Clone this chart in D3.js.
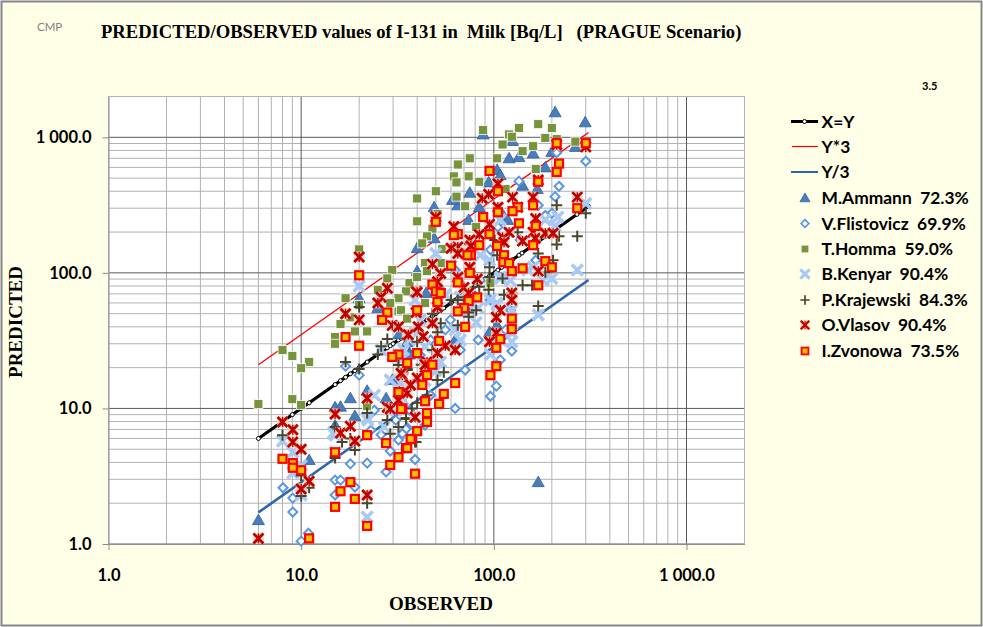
<!DOCTYPE html>
<html><head><meta charset="utf-8">
<script src="https://cdn.jsdelivr.net/npm/d3@7"></script>
<style>
html,body{margin:0;padding:0;background:#fff;overflow:hidden}
svg{display:block}
text{white-space:pre}
</style></head><body>
<svg id="c" width="983" height="627"></svg>
<script>
const titleText = "PREDICTED/OBSERVED values of I-131 in  Milk [Bq/L]   (PRAGUE Scenario)";
const xTitle = "OBSERVED", yTitle = "PREDICTED";
const axisTicks = [1, 10, 100, 1000];

const lineObserved = [6,8,9,10,11,15,16,17,18,19,20,22,25,26,28,29,30,32,33,35,37,40,42,45,48,50,53,55,60,63,65,70,75,80,85,90,95,105,110,125,135,140,160,170,185,200,212,270,310];
const lineSamples = [6, 310];
const lineXY = [6, 310];
const lineY3 = [21, 1085];
const lineYd3 = [1.71, 88.6];

const ammann = [[6,1.5],[11,4.16],[15,10.2],[16,10.3],[18,11.9],[19,8.8],[22,13.5],[15,7.5],[27.6,11.9],[29.7,16.2],[35.5,30.8],[32.2,35.3],[36.5,25.6],[170,2.86],[208,1530],[298,1290],[160,760],[185,600],[120,700],[135,715],[104,575],[108,525],[94,465],[141,440],[168,415],[200,780],[75,390],[84,305],[65,315],[49,305],[49,180],[40,152],[40,103],[74,246],[112,265],[118,246],[61,345],[44.5,71],[25,55],[20,65],[36.5,25],[63,32],[95,36.5],[104,41],[88,1050],[125,940],[265,850]];
const flistovicz = [[10,1.05],[10.9,1.2],[9.05,1.72],[9.05,2.18],[8.05,2.6],[15,2.96],[16,2.96],[19,2.63],[15,2.3],[18,3.9],[22,3.95],[27.6,3.4],[29,4.85],[32,5.85],[35.5,7.2],[39,4.2],[17,20.5],[20,17.6],[63,10],[96,12.3],[103,14.6],[108,22.8],[124,26.5],[35,7.05],[33.5,6.5],[44,7.55],[300,665],[212,770],[218,435],[208,365],[200,275],[170,315],[135,475],[105,218],[137,175],[185,265],[47,32],[56,38],[75,63],[85,88],[122,53],[53,75],[33,11.5],[41,16.2],[47,12.5],[24,9.7],[26,6.4],[23,6.9],[71,19.2],[83,32],[59.5,45],[48,19],[41.5,24.7],[67,27],[96,63],[115,38],[31,8.2],[36.5,9.7],[63,105],[75,135],[165,124],[96,148]];
const homma = [[20,149],[40,354],[40,240],[29.7,105],[28,91],[25,75],[17,65],[36.5,84],[35,73],[32,65],[32,52],[20,58],[29,60],[88,1130],[135,1170],[170,1250],[200,1170],[120,1050],[124,1010],[185,990],[265,930],[111,885],[160,860],[141,790],[212,970],[104,700],[75,700],[65,630],[62,515],[74,515],[64,465],[84,470],[50,400],[64,365],[71,310],[115,415],[48,212],[45,186],[42.5,165],[81,218],[51,272],[54,150],[165,585],[53,118],[44,118],[45,103],[40,93],[44,60],[33,53],[96,84],[8,27],[9,24.4],[11,22],[10,19.8],[9,11.7],[10,10.6],[6,10.8],[15,33.6],[15,30],[16,42],[19,37],[22,37],[18,47],[22,10.4],[35.5,46]];
const kenyar = [[20,80],[8,5.75],[9.05,4.75],[9.05,3.34],[10,2.3],[22,1.58],[15,6.35],[15,4.75],[22,8.5],[27,7.3],[33,15.4],[271,105],[300,325],[215,258],[200,91],[160,110],[180,88],[50,139],[95,124],[122,88],[104,60],[108,93],[67,66],[83,55],[170,49],[124,53],[81,43],[124,31],[96,25],[53,22],[104,58],[124,36],[44,28.5],[39,36],[48,43],[22.2,8.2],[14.7,6.6],[26,27],[108,246],[108,91],[65,93],[150,105],[75,53],[63,38],[56,69],[41.5,45],[36.5,32],[44,16],[34,11.5],[31,9.7],[50,19],[67,32],[85,135],[185,246],[208,223],[108,32],[33,22.8],[39,63],[29,16.2],[24,12.5],[34,27],[10,3.8],[96,63],[60,113]];
const krajewski = [[300,275],[212,315],[271,186],[218,186],[212,162],[170,139],[133,199],[101,175],[104,135],[203,124],[185,101],[95,110],[95,93],[111,91],[141,81],[158,81],[124,71],[113,69],[84,79],[76,72],[65,63],[60,63],[81,53],[74,51],[70,66],[48,50],[170,57],[55,18.5],[51,16.2],[40,11],[35,8.5],[39,5.65],[45,12.5],[37.5,10],[48,27],[51,36.5],[65,41],[53,42.5],[74,47.5],[35.5,19.2],[40,31],[42,21],[8,6.35],[10,3.2],[11,2.6],[10,2.26],[22,2],[15,7.3],[16.3,5.65],[18,6],[19,4.93],[22,9.25],[28,8.2],[29,6.5],[32,7.3],[35,8.35],[15,4.3],[17,22],[20,19.5],[25,25],[26,28.8],[28,32.5],[32,20.9],[35.5,19.5],[39.5,5.65],[20,56],[94,75]];
const vlasov = [[20,131],[28,77],[26,66],[25,60],[17,50],[20,45],[39.5,73],[39.5,51],[50,258],[62,220],[40,72],[105,455],[87,355],[94,380],[125,362],[160,362],[271,362],[300,850],[212,880],[170,485],[105,305],[133,305],[165,252],[95,228],[84,192],[75,175],[76,158],[65,155],[60,152],[65,139],[111,183],[120,199],[113,168],[141,172],[160,199],[164,180],[185,196],[203,196],[170,103],[48,116],[53,99],[75,110],[65,93],[82,90],[51,86],[70,78],[124,71],[124,63],[108,53],[103,47],[51,56],[74,71],[103,36],[95,31],[48,42.5],[43,34],[35.5,35],[56,29],[63,27],[51,25.6],[45,22],[44,20],[40,16.8],[36.5,14.9],[34,13.2],[39,8.6],[33.5,17.6],[6,1.1],[8,7.95],[9.05,6.95],[9.05,5.65],[10,5],[11,2.9],[10,2.55],[15,9.1],[16,6.6],[18,7.4],[19,5.75],[22,11.9],[22,2.3],[28,10.2],[29,9.9],[32,11.5],[35.5,13],[37,14.9],[33,18.2],[29.7,41],[32,40],[36,35],[40.5,40],[44,21]];
const zvonowa = [[20,96],[28,51],[26.3,45],[40,53],[212,905],[300,905],[218,640],[212,555],[170,470],[95,565],[105,400],[160,315],[271,300],[133,305],[125,285],[105,280],[88,258],[50,238],[135,232],[165,222],[65,193],[62,190],[95,193],[84,160],[160,160],[104,158],[76,135],[73,135],[113,135],[185,122],[200,110],[112,120],[120,118],[124,103],[141,108],[60,113],[75,100],[170,81],[65,85],[48,82],[50,73],[53,71],[82,66],[74,62],[51,61],[70,55],[65,52],[124,46],[71,40],[124,38.5],[108,32.5],[52,31.5],[103,28],[40,25.6],[48,21],[35.5,21.6],[103,20.5],[96,17.6],[45,17.6],[63,15.4],[42.5,14.9],[55,12.8],[44,11.3],[52,10.8],[33.5,10],[45,9.25],[45,7.95],[40,6.8],[37.5,5.95],[35,5.1],[39,3.3],[8,4.25],[9.05,3.95],[9.05,3.65],[10,3.5],[15,4.75],[11,1.1],[18,2.86],[16,2.45],[19,2.15],[15,1.88],[22,1.36],[22,6.35],[27.6,5.55],[29,3.83],[32,4.37],[35.5,5.1],[37,5.95],[32,25],[29.7,24],[32,13.2],[33,9.9],[17,33.6],[20,29]];

const legendLines = ["X=Y", "Y*3", "Y/3"];
const legendMarks = ["M.Ammann  72.3%", "V.Flistovicz  69.9%", "T.Homma  59.0%", "B.Kenyar  90.4%", "P.Krajewski  84.3%", "O.Vlasov  90.4%", "I.Zvonowa  73.5%"];

const W = 983, H = 627;
const svg = d3.select("#c");
const sans = "Lato, 'Open Sans', sans-serif", serif = "'Liberation Serif', serif";

svg.append("rect").attr("x",1.5).attr("y",1.5).attr("width",W-3).attr("height",H-3)
  .attr("fill","#FFFFE7").attr("stroke","#868686").attr("stroke-width",2);

const x = d3.scaleLog().domain([1,2000]).range([108.5,744.5]);
const y = d3.scaleLog().domain([1,2000]).range([544,96.5]);

svg.append("rect").attr("x",x.range()[0]).attr("y",y.range()[1])
  .attr("width",x.range()[1]-x.range()[0]).attr("height",y.range()[0]-y.range()[1])
  .attr("fill","#fff");

const minor = [];
[1,10,100,1000].forEach(d=>{ for(let k=2;k<=9;k++){ const v=d*k; if(v<=2000) minor.push(v);} });
const grid = svg.append("g").attr("fill","none");
grid.selectAll(".vm").data(minor).join("line").attr("x1",d=>x(d)).attr("x2",d=>x(d)).attr("y1",y.range()[0]).attr("y2",y.range()[1]).attr("stroke","#B2B2B2").attr("stroke-width",1);
grid.selectAll(".hm").data(minor).join("line").attr("y1",d=>y(d)).attr("y2",d=>y(d)).attr("x1",x.range()[0]).attr("x2",x.range()[1]).attr("stroke","#B2B2B2").attr("stroke-width",1);
grid.selectAll(".vM").data(axisTicks).join("line").attr("x1",d=>x(d)).attr("x2",d=>x(d)).attr("y1",y.range()[0]).attr("y2",y.range()[1]).attr("stroke","#5A5A5A").attr("stroke-width",1);
grid.selectAll(".hM").data(axisTicks).join("line").attr("y1",d=>y(d)).attr("y2",d=>y(d)).attr("x1",x.range()[0]).attr("x2",x.range()[1]).attr("stroke","#5A5A5A").attr("stroke-width",1);
svg.append("rect").attr("x",x.range()[0]).attr("y",y.range()[1])
  .attr("width",x.range()[1]-x.range()[0]).attr("height",y.range()[0]-y.range()[1])
  .attr("fill","none").attr("stroke","#B2B2B2");

const fmt = d => d>=1000 ? d3.format(".1f")(d).replace(/^(\d)(\d{3})/,"$1 $2") : d3.format(".1f")(d);
const xAxis = d3.axisBottom(x).tickValues(axisTicks).tickFormat(fmt).tickSizeInner(6).tickSizeOuter(0).tickPadding(19);
const yAxis = d3.axisLeft(y).tickValues(axisTicks).tickFormat(fmt).tickSizeInner(6).tickSizeOuter(0).tickPadding(11);
const gx = svg.append("g").attr("transform",`translate(0,${y.range()[0]})`).call(xAxis);
const gy = svg.append("g").attr("transform",`translate(${x.range()[0]},0)`).call(yAxis);
[gx,gy].forEach(g=>{
  g.select(".domain").attr("stroke","#8C8C8C");
  g.selectAll(".tick line").attr("stroke","#8C8C8C");
  g.selectAll("text").attr("fill","#000").style("font","bold 16.5px "+sans);
});

const lineGen = d3.line().x(d=>x(d[0])).y(d=>y(d[1]));
const pairs = (a,b)=>a.map((v,i)=>[v,b[i]]);
const plot = svg.append("g");
plot.append("path").attr("d",lineGen(pairs(lineSamples,lineXY))).attr("fill","none").attr("stroke","#000").attr("stroke-width",3.2);
plot.selectAll(".mk").data(lineObserved).join("circle").attr("cx",d=>x(d)).attr("cy",d=>y(d)).attr("r",2).attr("fill","#fff").attr("stroke","#000").attr("stroke-width",1);
plot.append("path").attr("d",lineGen(pairs(lineSamples,lineY3))).attr("fill","none").attr("stroke","#FF0000").attr("stroke-width",1.3);
plot.append("path").attr("d",lineGen(pairs(lineSamples,lineYd3))).attr("fill","none").attr("stroke","#2F66A8").attr("stroke-width",2.6);

const triPath = "M0,-6 L6,4.5 L-6,4.5 Z";
const drawers = {
  triangle:g=>g.append("path").attr("d",triPath).attr("fill","#4A7EBB").attr("stroke","#2F5F9E").attr("stroke-width",0.8),
  diamond:g=>g.append("path").attr("d","M0,-4.5 L4.5,0 L0,4.5 L-4.5,0 Z").attr("fill","#fff").attr("stroke","#5B96E2").attr("stroke-width",2),
  square:g=>g.append("rect").attr("x",-4.5).attr("y",-4.5).attr("width",9).attr("height",9).attr("fill","#77933C").attr("stroke","#fff").attr("stroke-width",0.8),
  cross:g=>g.append("path").attr("d","M-5.5,-5.5 L5.5,5.5 M-5.5,5.5 L5.5,-5.5").attr("stroke","#A9C9F5").attr("stroke-width",3.6).attr("fill","none"),
  plus:g=>g.append("path").attr("d","M-5.5,0 L5.5,0 M0,-5.5 L0,5.5").attr("stroke","#4A452A").attr("stroke-width",2).attr("fill","none"),
  star:g=>{
    g.append("rect").attr("x",-5.5).attr("y",-5.5).attr("width",11).attr("height",11).attr("fill","#FBD9BE").attr("opacity",0.8);
    g.append("path").attr("d","M-5,-5 L5,5 M-5,5 L5,-5").attr("stroke","#C00000").attr("stroke-width",2.8).attr("fill","none");
    g.append("path").attr("d","M0,-5 L0,5").attr("stroke","#C00000").attr("stroke-width",1.4).attr("fill","none");
  },
  zv:g=>g.append("rect").attr("x",-4).attr("y",-4).attr("width",8).attr("height",8).attr("fill","#FFC000").attr("stroke","#FF0000").attr("stroke-width",2.2)
};
const seriesList = [[ammann,"triangle"],[flistovicz,"diamond"],[homma,"square"],[kenyar,"cross"],[krajewski,"plus"],[vlasov,"star"],[zvonowa,"zv"]];
seriesList.forEach(([data,kind])=>{
  plot.append("g").selectAll("g").data(data).join("g")
    .attr("transform",d=>`translate(${x(d[0])},${y(d[1])})`)
    .each(function(){ drawers[kind](d3.select(this)); });
});

// text
svg.append("text").attr("x",37).attr("y",31).attr("fill","#808080").style("font","11.5px "+sans).text("CMP");
svg.append("text").attr("x",101).attr("y",38).attr("fill","#000").style("font","bold 18.6px "+serif).text(titleText);
svg.append("text").attr("x",922).attr("y",90).attr("fill","#000").style("font","bold 11px "+sans).text("3.5");
svg.append("text").attr("x",441).attr("y",610).attr("text-anchor","middle").attr("fill","#000").style("font","bold 19px "+serif).text(xTitle);
svg.append("text").attr("transform","translate(22,322) rotate(-90)").attr("text-anchor","middle").attr("fill","#000").style("font","bold 19px "+serif).text(yTitle);

// legend
const legX = 821.5;
const rows = [121.5,146.5,172,198,223.5,249,274,300,325,351];
const leg = svg.append("g");
legendLines.concat(legendMarks).forEach((t,i)=>{
  leg.append("text").attr("x",legX).attr("y",rows[i]+6).attr("fill","#000").style("font","bold 17.4px "+sans).text(t);
});
leg.append("line").attr("x1",791).attr("x2",818).attr("y1",rows[0]).attr("y2",rows[0]).attr("stroke","#000").attr("stroke-width",3);
leg.append("circle").attr("cx",804.5).attr("cy",rows[0]).attr("r",2).attr("fill","#fff").attr("stroke","#000");
leg.append("line").attr("x1",792).attr("x2",818).attr("y1",rows[1]).attr("y2",rows[1]).attr("stroke","#FF0000").attr("stroke-width",1.2);
leg.append("line").attr("x1",791).attr("x2",818).attr("y1",rows[2]).attr("y2",rows[2]).attr("stroke","#2F66A8").attr("stroke-width",2);
["triangle","diamond","square","cross","plus","star","zv"].forEach((k,i)=>{
  const g = leg.append("g").attr("transform",`translate(805,${rows[i+3]}) scale(0.85)`);
  drawers[k](g);
});
</script>
</body></html>
